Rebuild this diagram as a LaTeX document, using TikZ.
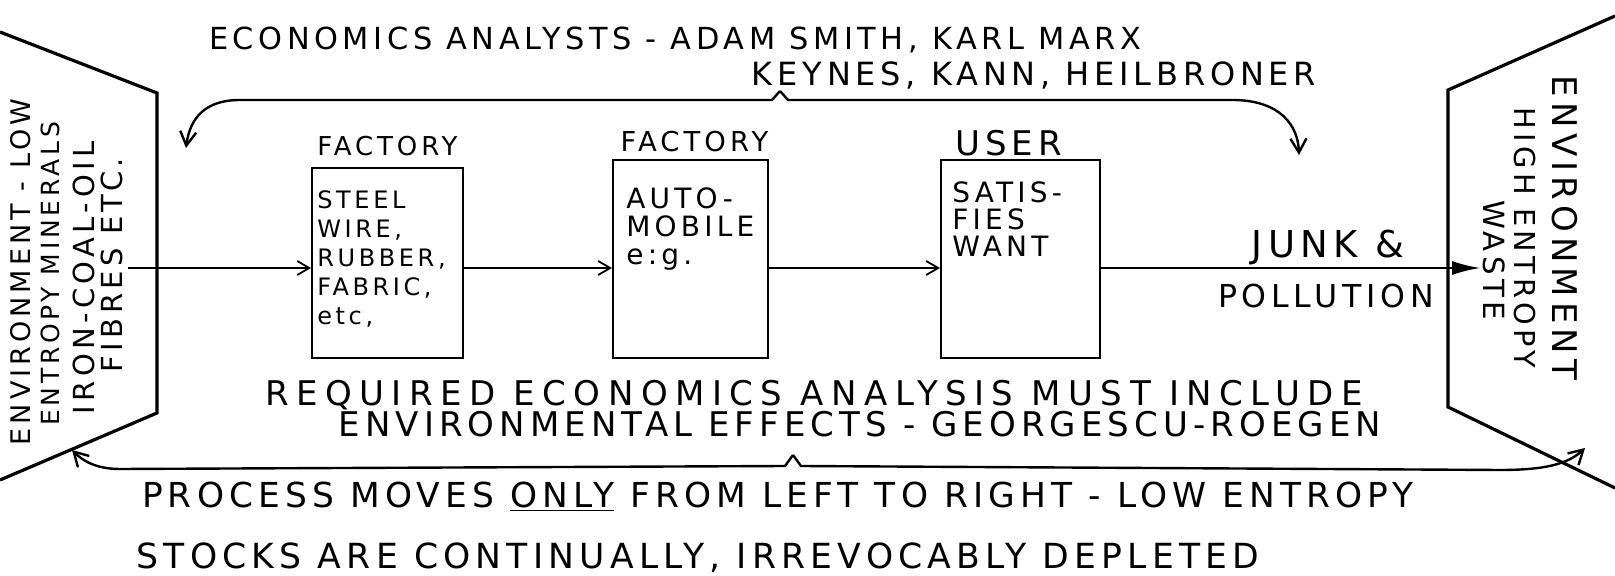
\documentclass[tikz,border=0pt]{standalone}
\usepackage{fontspec}
\usetikzlibrary{positioning,arrows.meta}
\newfontfamily\handfont{DejaVu Sans}[LetterSpace=15]

\tikzset{
  hand/.style={font=\handfont\fontsize{#1}{#1}\selectfont, inner sep=0pt},
  panel/.style={line width=1.6pt},
  stage/.style={draw, line width=1pt, inner sep=0pt},
  boxtext/.style={inner sep=0pt, align=left},
  flow/.style={line width=0.9pt, -{Straight Barb[length=6pt,width=7pt]}},
  feedback/.style={line width=1.2pt, -{Straight Barb[length=7pt,width=8pt]}},
}

\begin{document}
\begin{tikzpicture}[x=0.5pt, y=-0.5pt]
\useasboundingbox (0,0) rectangle (1615,576);

% the two environments
\draw[panel] (0,32) -- (157,93) -- (157,413) -- (0,480);
\draw[panel] (1615,16) -- (1448,90) -- (1448,407) -- (1615,488);

\node[hand=13.5, rotate=90] (low1) at (21,272) {ENVIRONMENT - LOW};
\node[hand=12.5, rotate=90] (low2) at (50,274) {ENTROPY MINERALS};
\node[hand=14.5, rotate=90] (low3) at (84,278) {IRON-COAL-OIL};
\node[hand=14.5, rotate=90] (low4) at (112,265) {FIBRES ETC.};

\node[hand=17, rotate=-90] (high1) at (1565,228) {ENVIRONMENT};
\node[hand=14.4, rotate=-90] (high2) at (1525,238) {HIGH ENTROPY};
\node[hand=14.6, rotate=-90] (high3) at (1494,260) {WASTE};

% the three stages
\node[stage, minimum width=75.5pt, minimum height=95pt] (f1) at (387.5,263) {};
\node[stage, minimum width=77.5pt, minimum height=99pt] (f2) at (690.5,259) {};
\node[stage, minimum width=79.5pt, minimum height=99pt] (u) at (1020.5,259) {};

\node[hand=13, above=5.5pt of f1] (f1title) {FACTORY};
\node[hand=13.7, above=3.5pt of f2, xshift=2pt] (f2title) {FACTORY};
\node[hand=17, above=1.5pt of u, xshift=-6pt] (utitle) {USER};

\node[boxtext, font=\handfont\fontsize{12}{14.5pt}\selectfont,
  below right=11.5pt and 3pt of f1.north west] (f1txt)
  {STEEL\\WIRE,\\RUBBER,\\FABRIC,\\etc,};
\node[boxtext, font=\handfont\fontsize{14}{14pt}\selectfont,
  below right=14pt and 7pt of f2.north west] (f2txt)
  {AUTO-\\MOBILE\\e:g.};
\node[boxtext, font=\handfont\fontsize{14}{13.5pt}\selectfont,
  below right=11pt and 6pt of u.north west] (utxt)
  {SATIS-\\FIES\\WANT};

% main flow
\coordinate (lin) at (128,268);
\coordinate (lout) at (1480,268);
\draw[flow] (lin) -- (lin -| f1.west);
\draw[flow] (lin -| f1.east) -- (lin -| f2.west);
\draw[flow] (lin -| f2.east) -- (lin -| u.west);
\draw[line width=0.9pt, -{Latex[length=14pt,width=7pt]}] (lin -| u.east) -- (lout);

\node[hand=18.5, anchor=base] (junk) at (1328,257.5) {JUNK \&};
\node[hand=15.8, anchor=base] (pollution) at (1326,307.5) {POLLUTION};

% economists on top
\node[hand=15.2, anchor=base] (analysts) at (675,50) {ECONOMICS ANALYSTS - ADAM SMITH, KARL MARX};
\node[hand=16, anchor=base] (keynes) at (1034,86) {KEYNES, KANN, HEILBRONER};

\coordinate (topjoin) at (780,91);
\draw[feedback] (topjoin) -- (772,100) -- (240,100) .. controls (205,100) and (190,118) .. (186,148);
\draw[feedback] (topjoin) -- (788,100) -- (1235,100) .. controls (1280,101) and (1298,125) .. (1299,155);

% required analysis below
\node[anchor=base, inner sep=0pt,
  font=\handfont\addfontfeatures{LetterSpace=22}\fontsize{17}{17}\selectfont]
  (required) at (814,406) {REQUIRED ECONOMICS ANALYSIS MUST INCLUDE};
\node[hand=17, anchor=base] (effects) at (860,437) {ENVIRONMENTAL EFFECTS - GEORGESCU-ROEGEN};

\coordinate (botjoin) at (793,455);
\draw[feedback] (botjoin) -- (785,466) -- (120,469) .. controls (95,469) and (82,460) .. (72,450);
\draw[feedback] (botjoin) -- (801,466) -- (1500,470) .. controls (1545,470) and (1568,464) .. (1585,448);

\node[hand=17.2, anchor=base] (process) at (778,507.5) {PROCESS MOVES \underline{ONLY} FROM LEFT TO RIGHT - LOW ENTROPY};
\node[hand=17.3, anchor=base] (stocks) at (698,568.5) {STOCKS ARE CONTINUALLY, IRREVOCABLY DEPLETED};
\end{tikzpicture}
\end{document}
